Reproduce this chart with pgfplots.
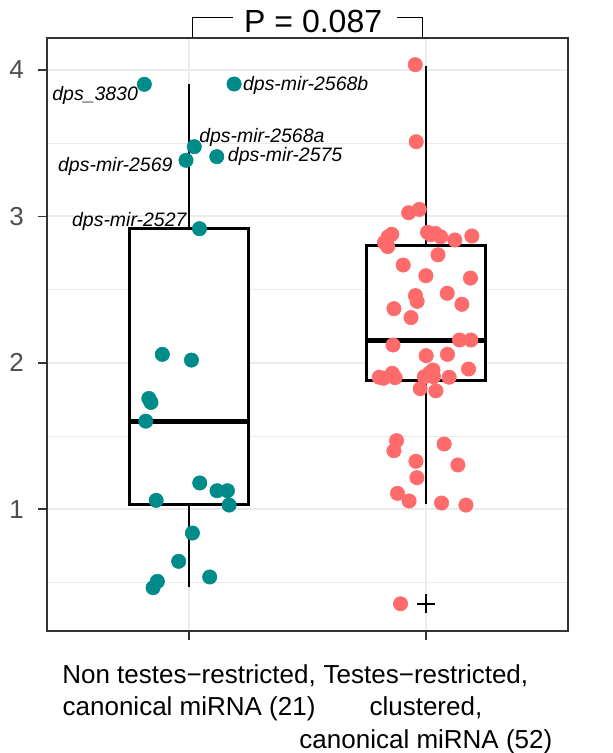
\documentclass[border=0pt]{standalone}
\usepackage{pgfplots}
\pgfplotsset{compat=1.18}
\usepackage{fontspec}
\setmainfont{Liberation Sans}
\definecolor{tealc}{HTML}{008B8B}
\definecolor{redc}{HTML}{FF6A6A}
\definecolor{grid92}{HTML}{EBEBEB}
\definecolor{grey20}{HTML}{333333}
\definecolor{grey30}{HTML}{4D4D4D}
\begin{document}
\begin{tikzpicture}
\path[use as bounding box] (-35.25pt,-91.7pt) rectangle (424.5pt,473.05pt);
\begin{axis}[
  at={(0,0)}, anchor=south west,
  scale only axis, width=390.75pt, height=444.75pt,
  xmin=0.4, xmax=2.6, ymin=0.171, ymax=4.22,
  xtick={1,2},
  xticklabels={{Non testes−restricted,\\canonical miRNA (21)},{Testes−restricted,\\clustered,\\canonical miRNA (52)}},
  ytick={1,2,3,4},
  minor ytick={0.5,1.5,2.5,3.5},
  xmajorgrids, ymajorgrids, yminorgrids,
  major grid style={color=grid92, line width=1.4pt},
  minor grid style={color=grid92, line width=0.7pt},
  axis line style={color=grey20, line width=1.3pt},
  tick align=outside, xtick pos=bottom, ytick pos=left,
  major tick length=6.75pt, minor tick length=0pt,
  tick style={color=grey20, line width=1.3pt},
  /pgf/number format/assume math mode=true,
  yticklabel style={font=\fontsize{19.5}{22.5}\selectfont, text=grey30, xshift=-7pt},
  xticklabel style={font=\fontsize{19.5}{24.5}\selectfont, text=black, align=center, yshift=-15pt},
  clip=false,
]
% box 1: whiskers 0.471 / 3.902, quartiles 1.034 / 2.919, median 1.602
\addplot[black, line width=2.1pt] coordinates {(1,0.471) (1,1.034)};
\addplot[black, line width=2.1pt] coordinates {(1,2.919) (1,3.902)};
\addplot[black, line width=2.1pt, fill=white] coordinates {(0.75,1.034) (1.25,1.034) (1.25,2.919) (0.75,2.919)} -- cycle;
\addplot[black, line width=3.8pt] coordinates {(0.75,1.602) (1.25,1.602)};
% box 2: whiskers 1.034 / 4.03, quartiles 1.878 / 2.80, median 2.154
\addplot[black, line width=2.1pt] coordinates {(2,1.034) (2,1.878)};
\addplot[black, line width=2.1pt] coordinates {(2,2.80) (2,4.03)};
\addplot[black, line width=2.1pt, fill=white] coordinates {(1.75,1.878) (2.25,1.878) (2.25,2.80) (1.75,2.80)} -- cycle;
\addplot[black, line width=3.8pt] coordinates {(1.75,2.154) (2.25,2.154)};
\addplot[only marks, mark=+, mark size=7pt, black, mark options={line width=1.5pt}] coordinates {(2,0.355)};
\addplot[only marks, mark=*, mark size=5.4pt, color=tealc, mark options={draw=tealc, fill=tealc}] coordinates {
(0.811,3.902) (1.190,3.904) (1.022,3.476) (0.987,3.383) (1.117,3.408)
(1.044,2.916) (0.887,2.058) (1.010,2.019) (0.830,1.757) (0.839,1.730)
(0.817,1.602) (1.045,1.180) (1.118,1.127) (1.162,1.127) (1.169,1.029)
(0.861,1.061) (1.014,0.838) (0.956,0.645) (1.087,0.538) (0.866,0.508)
(0.848,0.465)
};
\addplot[only marks, mark=*, mark size=5.4pt, color=redc, mark options={draw=redc, fill=redc}] coordinates {
(1.955,4.036) (1.959,3.510) (1.927,3.025) (1.972,3.048) (1.856,2.878)
(1.825,2.821) (1.839,2.794) (2.007,2.891) (2.039,2.884) (2.062,2.861)
(2.122,2.839) (2.194,2.866) (2.051,2.738) (1.904,2.668) (2.000,2.595)
(2.188,2.579) (2.090,2.475) (1.956,2.459) (1.963,2.420) (2.152,2.400)
(1.865,2.370) (1.937,2.309) (2.142,2.156) (2.190,2.156) (1.861,2.122)
(2.001,2.049) (2.091,2.058) (2.180,1.958) (1.803,1.902) (1.821,1.895)
(1.858,1.929) (1.870,1.899) (2.030,1.951) (1.993,1.905) (2.032,1.905)
(2.098,1.902) (1.976,1.824) (2.042,1.809) (1.876,1.469) (1.865,1.400)
(2.077,1.446) (1.958,1.328) (2.135,1.303) (1.962,1.216) (1.880,1.109)
(1.929,1.057) (2.066,1.043) (2.169,1.029) (1.893,0.355)
(2.015,1.930) (2.020,2.875) (1.840,2.860)
};
\begin{scope}[every node/.style={font=\fontsize{14.6}{17}\selectfont\itshape, inner sep=0pt}]
\node[anchor=base east] at (axis cs:0.785,3.788) {dps\_3830};
\node[anchor=base west] at (axis cs:1.227,3.859) {dps-mir-2568b};
\node[anchor=base west] at (axis cs:1.042,3.503) {dps-mir-2568a};
\node[anchor=base east] at (axis cs:0.931,3.305) {dps-mir-2569};
\node[anchor=base west] at (axis cs:1.163,3.372) {dps-mir-2575};
\node[anchor=base east] at (axis cs:0.990,2.930) {dps-mir-2527};
\end{scope}
\draw[black, line width=0.8pt] (axis cs:1.014,4.22) -- (axis cs:1.014,4.357) -- (axis cs:1.187,4.357);
\draw[black, line width=0.8pt] (axis cs:1.877,4.357) -- (axis cs:1.987,4.357) -- (axis cs:1.987,4.22);
\node[anchor=base, inner sep=0pt, font=\fontsize{24}{28}\selectfont] at (axis cs:1.524,4.2575) {P = 0.087};
\end{axis}
\end{tikzpicture}
\end{document}
